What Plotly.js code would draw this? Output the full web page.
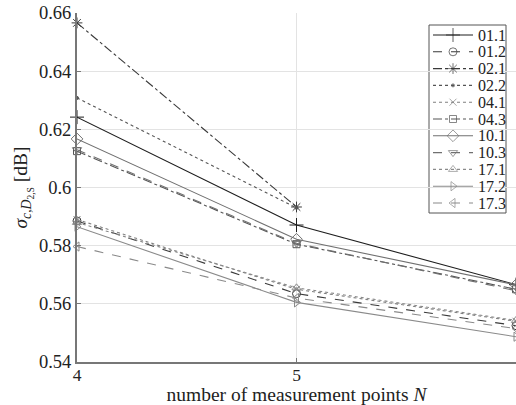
<!DOCTYPE html>
<html><head><meta charset="utf-8">
<script src="https://cdn.plot.ly/plotly-3.0.1.min.js"></script>
<style>html,body{margin:0;padding:0;background:#fff;}#chart{width:516px;height:405px;}</style>
</head><body><div id="chart"></div>
<script>
const N3 = [4, 5, 6];
const N2 = [4, 5];
const names = ['01.1','01.2','02.1','02.2','04.1','04.3','10.1','10.3','17.1','17.2','17.3'];
const v01_1 = [0.6242, 0.5871, 0.5666];
const v01_2 = [0.5885, 0.5635, 0.5525];
const v02_1 = [0.6566, 0.5933];
const v02_2 = [0.6308, 0.5930];
const v04_1 = [0.5890, 0.5650, 0.5540];
const v04_3 = [0.6125, 0.5805, 0.5650];
const v10_1 = [0.6167, 0.5822, 0.5665];
const v10_3 = [0.6130, 0.5808, 0.5645];
const v17_1 = [0.5880, 0.5655, 0.5543];
const v17_2 = [0.5865, 0.5605, 0.5487];
const v17_3 = [0.5797, 0.5620, 0.5515];

const series = [
  {n:names[0],  x:N3, y:v01_1, c:'#1e1e1e', d:'solid',   s:'cross-thin-open', ms:10},
  {n:names[1],  x:N3, y:v01_2, c:'#3a3a3a', d:'dash',    s:'circle-open', ms:8},
  {n:names[2],  x:N2, y:v02_1, c:'#3a3a3a', d:'dashdot', s:'asterisk-open', ms:9},
  {n:names[3],  x:N2, y:v02_2, c:'#555555', d:'dot',     s:'circle', ms:3},
  {n:names[4],  x:N3, y:v04_1, c:'#808080', d:'dot',     s:'x-thin-open', ms:7},
  {n:names[5],  x:N3, y:v04_3, c:'#555555', d:'dashdot', s:'square-open', ms:7},
  {n:names[6],  x:N3, y:v10_1, c:'#707070', d:'solid',   s:'diamond-open', ms:9},
  {n:names[7],  x:N3, y:v10_3, c:'#707070', d:'dash',    s:'triangle-down-open', ms:8},
  {n:names[8],  x:N3, y:v17_1, c:'#8a8a8a', d:'dot',     s:'triangle-up-open', ms:8},
  {n:names[9],  x:N3, y:v17_2, c:'#8a8a8a', d:'solid',   s:'triangle-right-open', ms:8},
  {n:names[10], x:N3, y:v17_3, c:'#8a8a8a', d:'dash',    s:'triangle-left-open', ms:8}
];
const font = '"Liberation Serif", "Times New Roman", serif';

// data traces
const traces = series.map(o => ({
  type:'scatter', mode:'lines+markers', name:o.n, x:o.x, y:o.y, showlegend:false,
  line:{color:o.c, dash:o.d, width:1.1},
  marker:{symbol:o.s, size:o.ms, color:o.c, line:{color:o.c, width:1}},
  cliponaxis:false
}));

// custom legend drawn on an overlay axis measured in page pixels
const LX0 = 429, LX1 = 506, LY0 = 25, LY1 = 213;
const rowY0 = 35, rowStep = 16.8;
const shapes = [{type:'rect', xref:'x2', yref:'y2', x0:LX0, x1:LX1, y0:LY0, y1:LY1,
  line:{color:'#555', width:1}, fillcolor:'#fff', layer:'below'}];
const annotations = [];
series.forEach((o, i) => {
  const yy = rowY0 + i * rowStep;
  traces.push({
    type:'scatter', mode:'lines+markers', xaxis:'x2', yaxis:'y2', showlegend:false,
    x:[433, 453, 473], y:[yy, yy, yy],
    line:{color:o.c, dash:o.d, width:1.1},
    marker:{symbol:o.s, size:[0, o.ms, 0], color:o.c, line:{color:o.c, width:1}},
    cliponaxis:false
  });
  annotations.push({xref:'x2', yref:'y2', x:476, y:yy, text:o.n, showarrow:false,
    xanchor:'left', yanchor:'middle', font:{family:font, size:16, color:'#222'}});
});

const layout = {
  width:516, height:405,
  margin:{l:77, r:0, t:13, b:43},
  paper_bgcolor:'#fff', plot_bgcolor:'#fff',
  font:{family:font, size:18, color:'#222'},
  showlegend:false,
  shapes, annotations,
  xaxis:{range:[4,6], tickvals:[4,5,6], ticktext:['4','5','6'], showgrid:true, gridcolor:'#e3e3e3', gridwidth:1,
    showline:true, linecolor:'#777', linewidth:2, ticks:'inside', ticklen:4, tickcolor:'#777',
    zeroline:false, tickfont:{family:font, size:17.5, color:'#222'}, ticklabelstandoff:-4,
    title:{text:'number of measurement points <i>N</i>', font:{family:font, size:19.5, color:'#222'}, standoff:7}},
  yaxis:{range:[0.54,0.66], tickvals:[0.54,0.56,0.58,0.6,0.62,0.64,0.66], ticktext:['0.54','0.56','0.58','0.6','0.62','0.64','0.66'],
    showgrid:true, gridcolor:'#e3e3e3', gridwidth:1,
    showline:true, linecolor:'#777', linewidth:2, ticks:'inside', ticklen:4, tickcolor:'#777',
    zeroline:false, tickfont:{family:font, size:18.5, color:'#222'},
    title:{text:'<i>σ</i><sub><i>c</i>,<i>D</i><sub>2,S</sub></sub> [dB]', font:{family:font, size:19.5, color:'#222'}, standoff:6}},
  xaxis2:{overlaying:'x', range:[77,516], visible:false, fixedrange:true},
  yaxis2:{overlaying:'y', range:[362,13], visible:false, fixedrange:true}
};
Plotly.newPlot('chart', traces, layout, {staticPlot:true, displayModeBar:false});
</script></body></html>
